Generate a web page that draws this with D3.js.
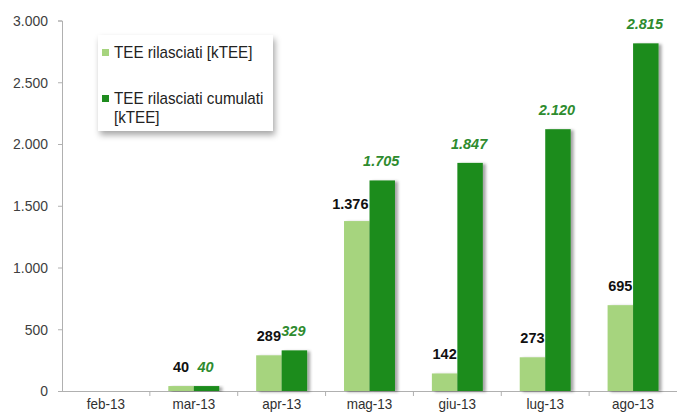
<!DOCTYPE html>
<html><head><meta charset="utf-8">
<script src="https://cdn.jsdelivr.net/npm/d3@7"></script>
<style>
html,body{margin:0;padding:0;background:#fff;}
svg{display:block;font-family:"Liberation Sans",Arial,sans-serif;}
</style></head>
<body>
<svg id="chart" width="677" height="416"></svg>
<script>
const categories = ["feb-13","mar-13","apr-13","mag-13","giu-13","lug-13","ago-13"];
const rilasciati = [0, 40, 289, 1376, 142, 273, 695];
const cumulati = [0, 40, 329, 1705, 1847, 2120, 2815];
const seriesNames = ["TEE rilasciati [kTEE]", "TEE rilasciati cumulati [kTEE]"];
const yTicks = [0, 500, 1000, 1500, 2000, 2500, 3000];

const fmt = d3.formatLocale({decimal:",", thousands:".", grouping:[3], currency:["","€"]}).format(",.0f");
const svg = d3.select("#chart");
const mLeft = 62, mRight = 677, mTop = 20.5, mBottom = 391;
const sx = 0.9;

const defs = svg.append("defs");
const f = defs.append("filter").attr("id","sh").attr("x","-20%").attr("y","-20%").attr("width","150%").attr("height","140%");
f.append("feDropShadow").attr("dx",3).attr("dy",1).attr("stdDeviation",1.6).attr("flood-color","#000").attr("flood-opacity",0.35);
const f2 = defs.append("filter").attr("id","lsh").attr("x","-10%").attr("y","-10%").attr("width","130%").attr("height","140%");
f2.append("feDropShadow").attr("dx",2).attr("dy",4).attr("stdDeviation",3).attr("flood-color","#000").attr("flood-opacity",0.35);

const x = d3.scaleBand().domain(categories).range([mLeft, mRight]).paddingInner(0).paddingOuter(0);
const x1 = d3.scaleBand().domain(["a","b"]).range([x.bandwidth()*0.21, x.bandwidth()*0.79]);
const y = d3.scaleLinear().domain([0, 3000]).range([mBottom, mTop]);

// axes
const yAxis = d3.axisLeft(y).tickValues(yTicks).tickSize(4).tickPadding(10).tickFormat(fmt);
const gy = svg.append("g").attr("transform",`translate(${mLeft},0)`).call(yAxis);
gy.select(".domain").attr("stroke","#b0b0b0");
gy.selectAll(".tick line").attr("stroke","#b0b0b0");
gy.selectAll(".tick text").attr("fill","#404040").attr("font-size",15.5)
  .attr("font-family","Liberation Sans, Arial, sans-serif")
  .attr("x", -14/sx).attr("transform",`scale(${sx},1)`);

const xAxis = d3.axisBottom(x).tickSize(0).tickPadding(7);
const gx = svg.append("g").attr("transform",`translate(0,${mBottom})`).call(xAxis);
gx.select(".domain").attr("stroke","#b0b0b0").attr("d",`M${mLeft},0.5H${mRight}`);
gx.selectAll(".tick text").attr("fill","#303030").attr("font-size",15)
  .attr("font-family","Liberation Sans, Arial, sans-serif").attr("transform",`scale(${sx},1)`);
gx.selectAll(".tick").attr("transform", d => `translate(${x(d) + x.bandwidth()/2},0)`);
gx.selectAll(".bound").data(categories.slice(1)).enter().append("line")
  .attr("x1",d=>x(d)).attr("x2",d=>x(d)).attr("y1",0).attr("y2",5).attr("stroke","#b0b0b0");

// bars
const g = svg.append("g");
categories.forEach((c,i)=>{
  const gg = g.append("g").attr("transform",`translate(${x(c)},0)`);
  const vals = [["a", rilasciati[i], "#a6d47e"], ["b", cumulati[i], "#1f8c1f"]];
  vals.forEach(([k,v,col])=>{
    if (v>0) gg.append("rect").attr("x",x1(k)).attr("width",x1.bandwidth()).attr("y",y(v)).attr("height",mBottom-y(v)).attr("fill",col).attr("filter","url(#sh)");
  });
});
// labels
categories.forEach((c,i)=>{
  if (rilasciati[i] > 0) {
    const t = fmt(rilasciati[i]);
    const bx = x(c) + x1("a");
    const wide = t.length > 3;
    svg.append("text").attr("x", wide ? bx + x1.bandwidth() - 1 : bx + x1.bandwidth()/2)
      .attr("y", y(rilasciati[i]) - (wide ? 12 : 14))
      .attr("text-anchor", wide ? "end" : "middle")
      .attr("font-size",14.5).attr("font-weight","bold").attr("fill","#111").text(t);
  }
  if (cumulati[i] > 0) {
    const bx = x(c) + x1("b");
    svg.append("text").attr("x", bx + x1.bandwidth()/2 - 1).attr("y", y(cumulati[i]) - 14)
      .attr("text-anchor","middle").attr("font-size",14.5).attr("font-weight","bold").attr("font-style","italic")
      .attr("fill","#2e8b2e").text(fmt(cumulati[i]));
  }
});

// legend
const lg = svg.append("g");
lg.append("rect").attr("x",98).attr("y",35).attr("width",175).attr("height",96).attr("fill","#fff").attr("filter","url(#lsh)");
lg.append("rect").attr("x",102).attr("y",49).attr("width",7).attr("height",7).attr("fill","#a6d47e");
lg.append("rect").attr("x",102).attr("y",95).attr("width",7).attr("height",7).attr("fill","#1f8c1f");
const words = seriesNames[1].split(" ");
const legLines = [[seriesNames[0], 58], [words.slice(0,3).join(" "), 104], [words.slice(3).join(" "), 123]];
legLines.forEach(([t,yy])=>{
  lg.append("text").attr("x",0).attr("y",0).attr("font-size",16).attr("fill","#222")
    .attr("transform",`translate(114,${yy}) scale(0.95,1)`).text(t);
});
</script>
</body></html>
